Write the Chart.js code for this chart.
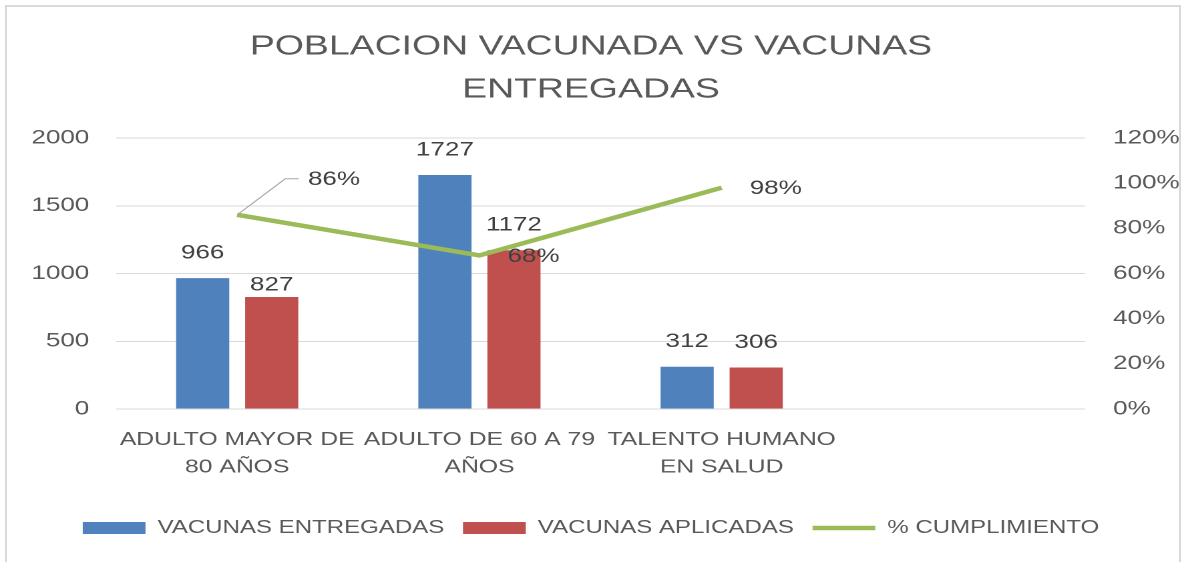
<!DOCTYPE html>
<html>
<head>
<meta charset="utf-8">
<script src="https://cdn.jsdelivr.net/npm/chart.js@4.4.1/dist/chart.umd.min.js"></script>
<style>
  html, body { margin: 0; padding: 0; background: #fff; }
  body { width: 1182px; height: 562px; position: relative; overflow: hidden; }
  /* el gráfico original está estirado a lo ancho, se reproduce con scaleX */
  #wrap { position: absolute; left: 0; top: 0; width: 885px; height: 562px;
          transform: scaleX(1.33559); transform-origin: 0 0; }
  #marco { position: absolute; left: 5px; top: 5px; width: 1172px; height: 620px;
           border-left: 2px solid #d9d9d9; border-top: 2px solid #d9d9d9; border-right: 2px solid #d9d9d9; }
</style>
</head>
<body>
<div id="wrap"><canvas id="grafico" width="885" height="562"></canvas></div>
<div id="marco"></div>
<script>
// Datos del gráfico
const categorias = [["ADULTO MAYOR DE", "80 AÑOS"], ["ADULTO DE 60 A 79", "AÑOS"], ["TALENTO HUMANO", "EN SALUD"], ""];
const vacunasEntregadas = [966, 1727, 312];
const vacunasAplicadas = [827, 1172, 306];
const cumplimiento = [0.86, 0.68, 0.98];
const ticksIzq = [0, 500, 1000, 1500, 2000];
const ticksDer = [0, 0.2, 0.4, 0.6, 0.8, 1.0, 1.2];

const FUENTE = '"Liberation Sans", Arial, sans-serif';
const GRIS = "#595959";

// Etiquetas de datos (valores sobre barras y % de la línea)
const etiquetas = {
    id: "etiquetas",
    afterDatasetsDraw(chart) {
        const ctx = chart.ctx;
        ctx.save();
        ctx.font = "19.5px " + FUENTE;
        ctx.fillStyle = "#404040";
        ctx.textBaseline = "middle";
        ctx.textAlign = "center";
        [1, 2].forEach(d => {
            chart.getDatasetMeta(d).data.forEach((barra, i) => {
                const sube = (d === 2 && i === 0) ? 12 : 25;
                ctx.fillText(chart.data.datasets[d].data[i], barra.x, barra.y - sube);
            });
        });
        ctx.textAlign = "left";
        chart.getDatasetMeta(0).data.forEach((p, i) => {
            const txt = Math.round(cumplimiento[i] * 100) + "%";
            if (i === 0) {
                // línea guía hacia la etiqueta desplazada
                ctx.strokeStyle = "#a6a6a6";
                ctx.lineWidth = 1;
                ctx.beginPath();
                ctx.moveTo(p.x, p.y);
                ctx.lineTo(p.x + 36, p.y - 36);
                ctx.lineTo(p.x + 46, p.y - 36);
                ctx.stroke();
                ctx.fillText(txt, p.x + 53, p.y - 35);
            } else {
                ctx.fillText(txt, p.x + 21, p.y + 1);
            }
        });
        ctx.restore();
    }
};

const config = {
    data: {
        labels: categorias,
        datasets: [
            {
                type: "line",
                label: "% CUMPLIMIENTO",
                data: cumplimiento,
                yAxisID: "y1",
                borderColor: "#9BBB59",
                backgroundColor: "#9BBB59",
                borderWidth: 4.5,
                pointRadius: 0,
                pointStyle: "line",
                order: 0
            },
            {
                type: "bar",
                label: "VACUNAS ENTREGADAS",
                data: vacunasEntregadas,
                backgroundColor: "#4F81BD",
                pointStyle: "rect",
                categoryPercentage: 0.57,
                barPercentage: 0.77,
                order: 1
            },
            {
                type: "bar",
                label: "VACUNAS APLICADAS",
                data: vacunasAplicadas,
                backgroundColor: "#C0504D",
                pointStyle: "rect",
                categoryPercentage: 0.57,
                barPercentage: 0.77,
                order: 1
            }
        ]
    },
    options: {
        responsive: false,
        animation: false,
        devicePixelRatio: 2,
        layout: { padding: { left: 0, right: 0, top: 0, bottom: 15 } },
        plugins: {
            title: {
                display: true,
                text: ["POBLACION VACUNADA VS VACUNAS", "ENTREGADAS"],
                color: GRIS,
                font: { family: FUENTE, size: 28, weight: "normal", lineHeight: 1.536 },
                padding: { top: 25.5, bottom: 26.5 }
            },
            legend: {
                position: "bottom",
                labels: {
                    usePointStyle: true,
                    pointStyleWidth: 47,
                    boxHeight: 12,
                    padding: 14,
                    color: GRIS,
                    font: { family: FUENTE, size: 18 },
                    sort: (a, b) => [1, 2, 0].indexOf(a.datasetIndex) - [1, 2, 0].indexOf(b.datasetIndex)
                }
            },
            tooltip: { enabled: false }
        },
        scales: {
            x: {
                grid: { display: false, drawTicks: false },
                border: { display: false },
                ticks: {
                    color: GRIS,
                    font: { family: FUENTE, size: 18.5, lineHeight: 1.5 },
                    padding: 17,
                    maxRotation: 0,
                    autoSkip: false
                },
                afterFit: s => { s.height = 96; }
            },
            y: {
                position: "left",
                min: 0,
                max: 2000,
                grid: { color: "#d9d9d9", lineWidth: 1, drawTicks: false },
                border: { display: false },
                ticks: {
                    color: GRIS,
                    font: { family: FUENTE, size: 19.5 },
                    padding: 20,
                    callback: v => String(v)
                },
                afterBuildTicks: s => { s.ticks = ticksIzq.map(v => ({ value: v })); },
                afterFit: s => { s.width = 86.9; }
            },
            y1: {
                position: "right",
                min: 0,
                max: 1.2,
                grid: { display: false, drawTicks: false },
                border: { display: false },
                ticks: {
                    color: GRIS,
                    font: { family: FUENTE, size: 19.5 },
                    padding: 21,
                    callback: v => Math.round(v * 100) + "%"
                },
                afterBuildTicks: s => { s.ticks = ticksDer.map(v => ({ value: v })); },
                afterFit: s => { s.width = 72.6; }
            }
        }
    },
    plugins: [etiquetas]
};

new Chart(document.getElementById("grafico"), config);
</script>
</body>
</html>
